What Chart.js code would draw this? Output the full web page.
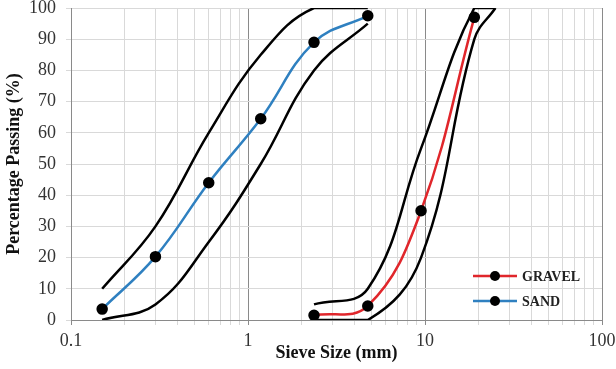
<!DOCTYPE html>
<html>
<head>
<meta charset="utf-8">
<script src="https://cdn.jsdelivr.net/npm/chart.js@4.4.1/dist/chart.umd.min.js"></script>
<style>
  html, body { margin: 0; padding: 0; background: #fff; }
  #wrap { width: 616px; height: 369px; }
</style>
</head>
<body>
<div id="wrap"><canvas id="gradation" width="616" height="369"></canvas></div>
<script>
// Sieve sizes (mm) and percentage passing
const sandSieves = [0.15, 0.3, 0.6, 1.18, 2.36, 4.75];
const sandPassing = [3.5, 20.3, 44, 64.5, 89, 97.5];
const sandUpper = [10, 30, 60, 85, 100, 100];
const sandLower = [0, 5, 25, 50, 80, 95];

const gravelSieves = [2.36, 4.75, 9.5, 19];
const gravelPassing = [1.5, 4.5, 35, 97];
const gravelLimitSieves = [2.36, 4.75, 9.5, 19, 25];
const gravelUpper = [5, 10, 55, 100, 100];
const gravelLower = [0, 0, 20, 90, 100];

// x grid lines: 1..9 in each decade, labelled only at decades
const xDecades = [0.1, 1, 10, 100];
const xGridValues = [];
[0.1, 1, 10].forEach(d => {
    for (let m = 1; m < 10; m++) xGridValues.push(+(d * m).toPrecision(3));
});
xGridValues.push(100);

const yTicks = [0, 10, 20, 30, 40, 50, 60, 70, 80, 90, 100];

const toPoints = (xs, ys) => xs.map((x, i) => ({ x: x, y: ys[i] }));
const isDecade = v => Math.abs(Math.log10(v) - Math.round(Math.log10(v))) < 1e-6;

const serif = '"Liberation Serif", "Times New Roman", serif';

const limitStyle = {
    borderColor: '#000',
    borderWidth: 2.5,
    pointRadius: 0,
    tension: 0.4,
    fill: false,
    order: 2
};

// Legend drawn inside the plot, bottom right, line + marker like the original
const insideLegend = {
    id: 'insideLegend',
    afterDraw(chart) {
        const ctx = chart.ctx;
        const area = chart.chartArea;
        const items = chart.data.datasets.filter(ds => ds.showInLegend);
        const x0 = area.right - 129;
        let y = area.bottom - 44;
        ctx.save();
        items.forEach(ds => {
            ctx.strokeStyle = ds.borderColor;
            ctx.lineWidth = 2.5;
            ctx.beginPath();
            ctx.moveTo(x0, y);
            ctx.lineTo(x0 + 44, y);
            ctx.stroke();
            ctx.fillStyle = '#000';
            ctx.beginPath();
            ctx.arc(x0 + 22, y, 5, 0, Math.PI * 2);
            ctx.fill();
            ctx.font = 'bold 14px ' + serif;
            ctx.textBaseline = 'middle';
            ctx.fillStyle = '#222';
            ctx.fillText(ds.label, x0 + 49, y + 1);
            y += 25;
        });
        ctx.restore();
    }
};

new Chart(document.getElementById('gradation'), {
    type: 'line',
    data: {
        datasets: [
            Object.assign({ label: 'Sand upper', data: toPoints(sandSieves, sandUpper) }, limitStyle),
            Object.assign({ label: 'Sand lower', data: toPoints(sandSieves, sandLower) }, limitStyle),
            Object.assign({ label: 'Gravel upper', data: toPoints(gravelLimitSieves, gravelUpper) }, limitStyle),
            Object.assign({ label: 'Gravel lower', data: toPoints(gravelLimitSieves, gravelLower) }, limitStyle),
            {
                label: 'GRAVEL',
                showInLegend: true,
                data: toPoints(gravelSieves, gravelPassing),
                borderColor: '#e0262b',
                borderWidth: 2.5,
                pointRadius: 4.5,
                pointBackgroundColor: '#000',
                pointBorderColor: '#000',
                tension: 0.4,
                order: 1
            },
            {
                label: 'SAND',
                showInLegend: true,
                data: toPoints(sandSieves, sandPassing),
                borderColor: '#2f80c0',
                borderWidth: 2.5,
                pointRadius: 4.5,
                pointBackgroundColor: '#000',
                pointBorderColor: '#000',
                tension: 0.4,
                order: 1
            }
        ]
    },
    options: {
        responsive: false,
        animation: false,
        layout: { padding: { left: 0, top: 8, right: 14, bottom: 0 } },
        plugins: {
            legend: { display: false },
            tooltip: { enabled: false }
        },
        scales: {
            x: {
                type: 'logarithmic',
                min: 0.1,
                max: 100,
                afterBuildTicks: scale => {
                    scale.ticks = xGridValues.map(v => ({ value: v }));
                },
                afterFit: scale => {
                    scale.height = 49;
                    scale.paddingRight = 0;
                    scale.paddingLeft = 0;
                },
                ticks: {
                    autoSkip: false,
                    maxRotation: 0,
                    padding: 5,
                    color: '#333',
                    font: { family: serif, size: 18 },
                    callback: v => (xDecades.some(d => Math.abs(d - v) < 1e-9) ? String(v) : '')
                },
                grid: {
                    color: c => (c.tick && isDecade(c.tick.value) ? '#8a8a8a' : '#d9d9d9'),
                    lineWidth: 1,
                    tickLength: 5
                },
                border: { color: '#8a8a8a' },
                title: {
                    display: true,
                    text: 'Sieve Size (mm)',
                    color: '#111',
                    font: { family: serif, size: 18, weight: 'bold' },
                    padding: { top: 0, bottom: 5 }
                }
            },
            y: {
                min: 0,
                max: 100,
                afterBuildTicks: scale => {
                    scale.ticks = yTicks.map(v => ({ value: v }));
                },
                afterFit: scale => {
                    scale.width = 71;
                    scale.paddingTop = 0;
                    scale.paddingBottom = 0;
                },
                ticks: {
                    padding: 10,
                    color: '#333',
                    font: { family: serif, size: 18 }
                },
                grid: { color: '#d9d9d9', lineWidth: 1, tickLength: 5 },
                border: { color: '#8a8a8a' },
                title: {
                    display: true,
                    text: 'Percentage Passing (%)',
                    color: '#111',
                    font: { family: serif, size: 18, weight: 'bold' },
                    padding: { top: 4, bottom: 0 }
                }
            }
        }
    },
    plugins: [insideLegend]
});
</script>
</body>
</html>
